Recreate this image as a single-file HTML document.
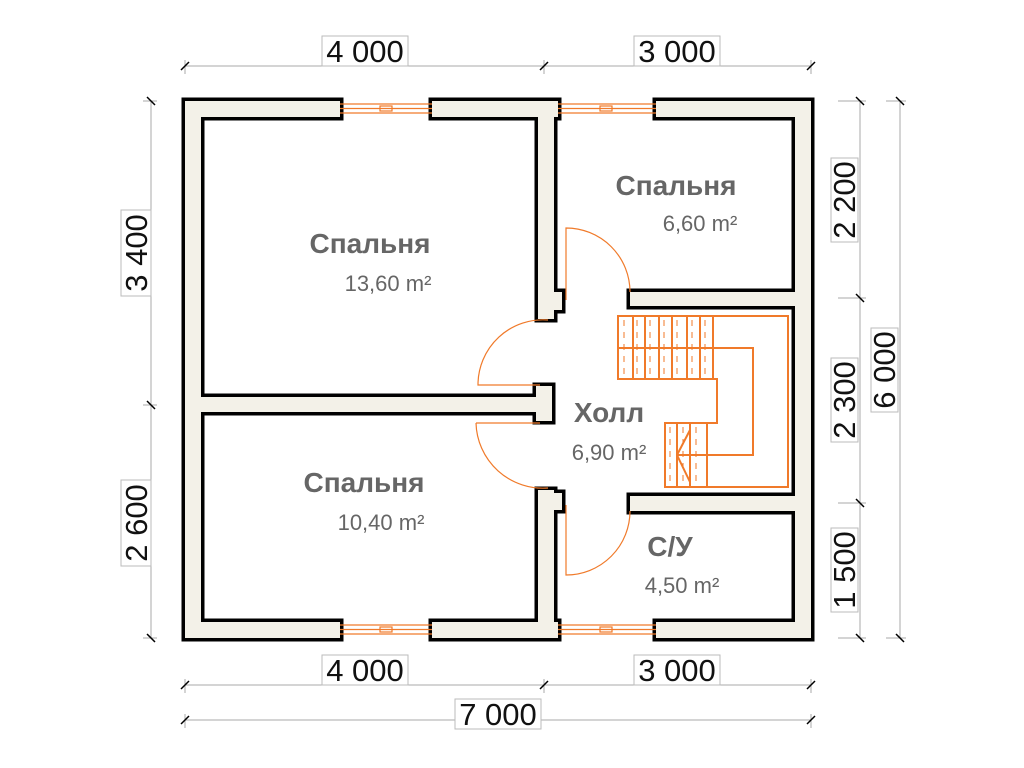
<!DOCTYPE html>
<html><head><meta charset="utf-8"><style>
html,body{margin:0;padding:0;background:#fff;width:1024px;height:768px;overflow:hidden}
svg text{font-family:"Liberation Sans",sans-serif}
</style></head><body>
<svg width="1024" height="768" viewBox="0 0 1024 768" xmlns="http://www.w3.org/2000/svg">
<defs>
<g id="walls">
<rect x="185" y="101" width="155" height="16"/>
<rect x="432" y="101" width="126" height="16"/>
<rect x="656" y="101" width="155" height="16"/>
<rect x="185" y="622" width="155" height="16"/>
<rect x="432" y="622" width="126" height="16"/>
<rect x="656" y="622" width="155" height="16"/>
<rect x="185" y="101" width="16" height="537"/>
<rect x="795" y="101" width="16" height="537"/>
<rect x="538" y="101" width="16" height="218"/>
<rect x="538" y="292" width="24" height="18"/>
<rect x="538" y="490" width="16" height="148"/>
<rect x="538" y="493" width="24" height="17"/>
<rect x="185" y="397" width="360" height="15"/>
<rect x="536" y="386" width="16" height="35"/>
<rect x="630" y="292" width="181" height="14"/>
<rect x="630" y="496" width="181" height="15"/>
</g>
</defs>
<g fill="#000" stroke="#000" stroke-width="7" stroke-linejoin="miter"><use href="#walls"/></g>
<g fill="#f3f1e8"><use href="#walls"/></g>

<g stroke="#f07a2a" stroke-width="1.2" fill="none">
<path d="M340 104H432M340 113H432M340 108.5H432M558 104H656M558 113H656M558 108.5H656"/>
<path d="M340 625H432M340 634H432M340 629.5H432M558 625H656M558 634H656M558 629.5H656"/>
<rect x="380" y="106" width="12" height="5"/><rect x="600" y="106" width="12" height="5"/>
<rect x="380" y="627" width="12" height="5"/><rect x="600" y="627" width="12" height="5"/>
<path d="M548 320A65 65 0 0 0 478 385H540"/>
<path d="M476 423H540M476 423A67 67 0 0 0 548 488"/>
<path d="M566 300V228A64 64 0 0 1 630 292"/>
<path d="M566 505V575A64 64 0 0 0 630 511"/>
</g>
<g stroke="#f07a2a" stroke-width="2" fill="none">
<path d="M618 316H788V487H665V423H717V379H618Z"/>
<path d="M618 348H753V455H707M677 455H707"/>
<path d="M633 316V379M645 316V379M659 316V379M672 316V379M687 316V379M700 316V379M713 316V379"/>
<path d="M677 423V487M690 423V487M707 423V487"/>
<path d="M690 430L677 455L690 482"/>
</g>
<g stroke="#f07a2a" stroke-width="1" fill="none" stroke-dasharray="6 6">
<path d="M624 320V376M637 320V376M650 320V376M664 320V376M677 320V376M692 320V376M705 320V376M670 427V484M683 427V484M696 427V484"/>
</g>
<g stroke="#aaa" stroke-width="1" fill="none">
<path d="M185 66H811M185 685H811M185 720H811M151 101V638M860 101V638M900 101V638"/>
<path d="M185 60V74M544 60V74M811 60V74M185 679V693M544 679V693M811 679V693M185 714V728M811 714V728"/>
<path d="M143 101H157M143 405H157M143 638H157M838 101H866M838 298H866M838 503H866M838 638H866M886 101H906M886 638H906"/>
</g>
<g stroke="#000" stroke-width="1.5">
<path d="M181 70L189 62M540 70L548 62M807 70L815 62M181 689L189 681M540 689L548 681M807 689L815 681M181 724L189 716M807 724L815 716"/>
<path d="M147 97L155 105M147 401L155 409M147 634L155 642M856 97L864 105M856 294L864 302M856 499L864 507M856 634L864 642M896 97L904 105M896 634L904 642"/>
</g>
<g fill="#fff" stroke="#bbb" stroke-width="1">
<rect x="322" y="36" width="86" height="30"/><rect x="634" y="36" width="86" height="30"/>
<rect x="322" y="655" width="86" height="30"/><rect x="634" y="655" width="86" height="30"/>
<rect x="455" y="699" width="86" height="30"/>
<rect x="121" y="210" width="30" height="86"/><rect x="121" y="480" width="30" height="86"/>
<rect x="831" y="158" width="27" height="84"/><rect x="831" y="358" width="27" height="84"/>
<rect x="831" y="528" width="27" height="84"/><rect x="871" y="328" width="27" height="84"/>
</g>
<g font-size="31" fill="#111" text-anchor="middle">
<text x="365" y="62">4 000</text><text x="677" y="62">3 000</text>
<text x="365" y="681">4 000</text><text x="677" y="681">3 000</text>
<text x="498" y="725">7 000</text>
<text transform="translate(147,253) rotate(-90)">3 400</text>
<text transform="translate(147,523) rotate(-90)">2 600</text>
<text transform="translate(855,200) rotate(-90)">2 200</text>
<text transform="translate(855,400) rotate(-90)">2 300</text>
<text transform="translate(855,570) rotate(-90)">1 500</text>
<text transform="translate(895,370) rotate(-90)">6 000</text>
</g>
<g fill="#666" text-anchor="middle">
<g font-size="28" font-weight="bold">
<text x="370" y="253">Спальня</text><text x="676" y="195">Спальня</text>
<text x="364" y="492">Спальня</text><text x="609" y="422">Холл</text><text x="670" y="556">С/У</text>
</g>
<g font-size="22">
<text x="388" y="291">13,60 m²</text><text x="700" y="231">6,60 m²</text>
<text x="381" y="530">10,40 m²</text><text x="609" y="460">6,90 m²</text><text x="682" y="593">4,50 m²</text>
</g>
</g>
</svg>
</body></html>
